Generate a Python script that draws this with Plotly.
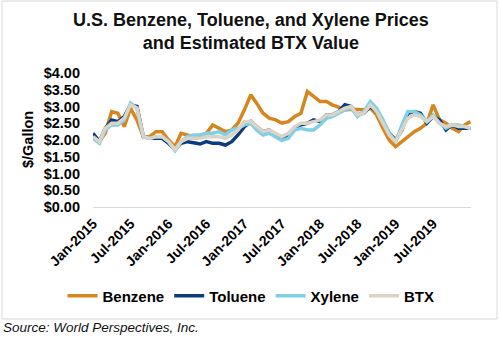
import pandas as pd
import plotly.graph_objects as go

# Monthly observations, Jan 2015 - Dec 2019 ($/gallon)
dates = list(pd.date_range("2015-01-01", periods=60, freq="MS").strftime("%Y-%m-%d")) + ["2019-12-28"]

benzene = [2.05, 1.95, 2.2, 2.85, 2.8, 2.4, 2.95, 2.6, 2.1, 2.1, 2.25, 2.25,
           2.0, 1.8, 2.2, 2.15, 2.1, 2.1, 2.2, 2.45, 2.35, 2.25, 2.3, 2.5,
           2.9, 3.35, 3.1, 2.8, 2.65, 2.6, 2.5, 2.55, 2.7, 2.8, 3.45, 3.3,
           3.15, 3.15, 3.05, 2.98, 2.9, 2.92, 2.9, 2.9, 2.95, 2.75, 2.35, 2.0,
           1.8, 1.95, 2.1, 2.25, 2.35, 2.5, 3.05, 2.6, 2.5, 2.35, 2.25, 2.45, 2.55]

toluene = [2.2, 1.95, 2.35, 2.6, 2.55, 2.7, 3.05, 3.0, 2.1, 2.05, 2.05, 2.05,
           1.9, 1.72, 1.9, 1.95, 1.92, 1.88, 1.95, 1.9, 1.9, 1.85, 1.95, 2.15,
           2.4, 2.55, 2.4, 2.25, 2.3, 2.15, 2.05, 2.15, 2.35, 2.45, 2.5, 2.6,
           2.55, 2.75, 2.75, 2.85, 3.05, 3.0, 2.75, 2.8, 3.0, 2.85, 2.55, 2.2,
           2.0, 2.3, 2.8, 2.85, 2.8, 2.5, 2.7, 2.6, 2.3, 2.45, 2.35, 2.35, 2.35]

xylene = [2.05, 1.9, 2.3, 2.45, 2.45, 2.6, 3.1, 2.95, 2.1, 2.05, 2.1, 2.1,
          1.95, 1.68, 1.95, 2.1, 2.15, 2.15, 2.2, 2.2, 2.25, 2.15, 2.3, 2.35,
          2.45, 2.5, 2.3, 2.15, 2.2, 2.1, 1.98, 2.05, 2.3, 2.35, 2.3, 2.3,
          2.45, 2.65, 2.7, 2.8, 2.9, 2.95, 2.7, 2.85, 3.15, 2.95, 2.6, 2.2,
          1.95, 2.45, 2.85, 2.85, 2.75, 2.55, 2.75, 2.5, 2.35, 2.45, 2.45, 2.4, 2.35]

btx = [2.1, 1.95, 2.35, 2.5, 2.5, 2.65, 3.05, 2.95, 2.1, 2.05, 2.1, 2.1,
       1.95, 1.72, 1.95, 2.05, 2.05, 2.05, 2.1, 2.1, 2.1, 2.05, 2.15, 2.3,
       2.55, 2.55, 2.4, 2.25, 2.3, 2.2, 2.1, 2.2, 2.4, 2.5, 2.5, 2.55,
       2.6, 2.75, 2.75, 2.85, 2.95, 3.0, 2.75, 2.8, 3.05, 2.85, 2.5, 2.15,
       1.95, 2.3, 2.65, 2.75, 2.7, 2.55, 2.7, 2.5, 2.4, 2.45, 2.4, 2.4, 2.35]

series = [
    ("Benzene", benzene, "#D6861E"),
    ("Toluene", toluene, "#0D3C7E"),
    ("Xylene", xylene, "#80D0E5"),
    ("BTX", btx, "#DAD3C7"),
]

FONT = "Liberation Sans, Arial, sans-serif"

fig = go.Figure()
for name, vals, color in series:
    fig.add_trace(go.Scatter(
        x=dates, y=vals, name=name, mode="lines",
        line=dict(color=color, width=3.5),
    ))

fig.update_layout(
    width=502, height=338,
    margin=dict(l=93, r=31, t=73, b=131, autoexpand=False),
    paper_bgcolor="white", plot_bgcolor="white",
    font=dict(family=FONT, color="#000000", size=14),
    showlegend=True,
    legend=dict(
        orientation="h", xref="container", yref="container",
        x=0.5, xanchor="center", y=1 - 296 / 338, yanchor="middle",
        font=dict(size=15, family=FONT, weight="bold"),
        itemwidth=30, tracegroupgap=0,
    ),
)

fig.update_xaxes(
    type="date",
    range=["2015-01-01", "2019-12-31"],
    tick0="2015-01-01", dtick="M6", tickformat="%b-%Y",
    tickangle=-45, automargin=False,
    tickfont=dict(size=14, family=FONT, weight="bold"),
    showgrid=False, zeroline=False,
    showline=True, linecolor="#D9D9D9", linewidth=1,
    ticks="", ticklabelstandoff=2,
)

fig.update_yaxes(
    range=[0, 4], dtick=0.5, tickformat="$.2f", automargin=False,
    tickfont=dict(size=14.5, family=FONT, weight="bold"),
    showgrid=False, zeroline=False, showline=False,
    ticks="", ticklabelstandoff=12,
)

# Chart title (two lines)
fig.add_annotation(
    text="<b>U.S. Benzene, Toluene, and Xylene Prices<br>and Estimated BTX Value</b>",
    xref="paper", yref="paper", x=(251 - 93) / 378, y=(207 - 31.5) / 134,
    xanchor="center", yanchor="middle", showarrow=False, align="center",
    font=dict(size=18, family=FONT, color="#111111"),
)

# Axis title
fig.add_annotation(
    text="<b>$/Gallon</b>", textangle=-90,
    xref="paper", yref="paper", x=(28 - 93) / 378, y=(207 - 140) / 134,
    xanchor="center", yanchor="middle", showarrow=False,
    font=dict(size=14.5, family=FONT),
)

# Source note
fig.add_annotation(
    text="<i>Source: World Perspectives, Inc.</i>",
    xref="paper", yref="paper", x=(1 - 93) / 378, y=(207 - 327) / 134,
    xanchor="left", yanchor="middle", showarrow=False,
    font=dict(size=13.5, family=FONT, color="#111111"),
)

# Chart frame
fig.add_shape(
    type="rect", xref="paper", yref="paper",
    x0=(2 - 93) / 378, x1=(497 - 93) / 378,
    y0=(207 - 319) / 134, y1=(207 - 1) / 134,
    line=dict(color="#D9D9D9", width=1), fillcolor="rgba(0,0,0,0)",
    layer="below",
)

fig.write_html("out.html")
